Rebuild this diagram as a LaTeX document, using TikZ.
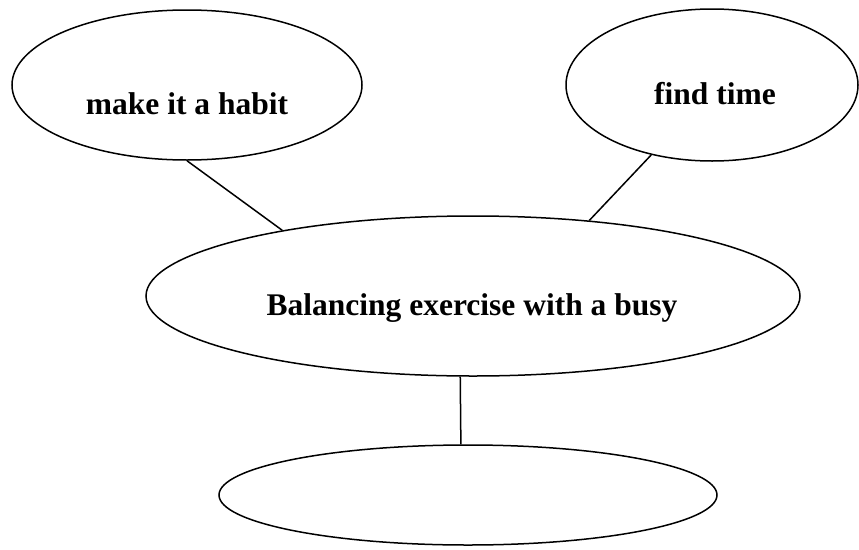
\documentclass[tikz,border=0pt]{standalone}
\usepackage{fontspec}
\setmainfont{Liberation Serif}
\usetikzlibrary{shapes.geometric}
\begin{document}
\begin{tikzpicture}[x=1pt,y=-1pt,
  bub/.style={draw, ellipse, line width=1.5pt, inner sep=0pt},
  lbl/.style={font=\fontsize{31.5}{36}\selectfont\bfseries, anchor=base, inner sep=0pt},
  link/.style={line width=1.5pt}]
\useasboundingbox (0,0) rectangle (859,549);
\node[bub, minimum width=350, minimum height=150] (habit) at (187,85) {};
\node[bub, minimum width=292, minimum height=152] (time) at (712,85) {};
\node[bub, minimum width=654, minimum height=160] (main) at (473,296) {};
\node[bub, minimum width=498, minimum height=100] (empty) at (468,495) {};
\node[lbl] (habitT) at (187,114) {make it a habit};
\node[lbl] (timeT) at (715,104) {find time};
\node[lbl] (mainT) at (472,315) {Balancing exercise with a busy};
\draw[link] (habit.south) -- (main.161.7);
\draw[link] (time.229.5) -- (main.33);
\draw[link] (main.261.5) -- (empty.98);
\end{tikzpicture}
\end{document}
